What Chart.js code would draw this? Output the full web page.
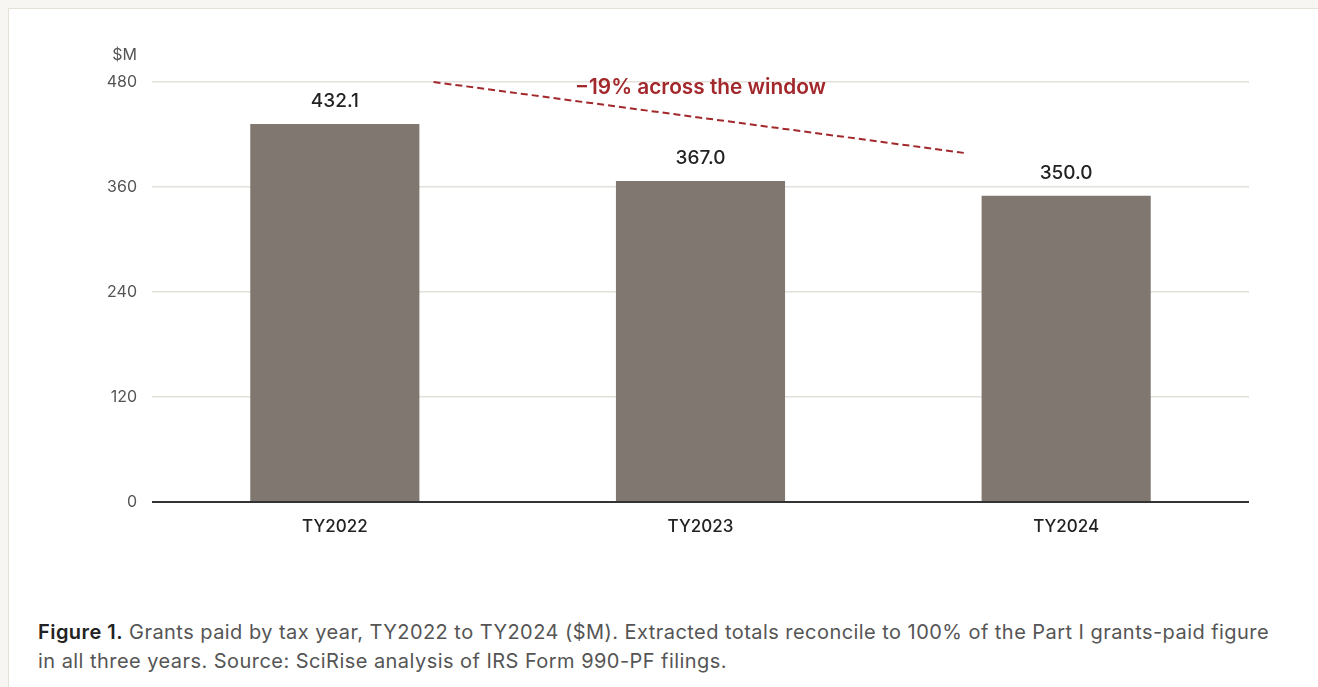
<!DOCTYPE html>
<html>
<head>
<meta charset="utf-8">
<script src="https://cdn.jsdelivr.net/npm/chart.js@4.4.1/dist/chart.umd.min.js"></script>
<style>
  html, body { margin: 0; padding: 0; background: #f8f6f2; width: 1318px; height: 687px; overflow: hidden; }
  .card { position: absolute; left: 8px; top: 8px; width: 1340px; height: 720px; background: #fff; border: 1px solid #e6e1d9; box-sizing: border-box; }
  #wrap { position: absolute; left: 0; top: 0; width: 1318px; height: 560px; }
  .caption { position: absolute; left: 38px; top: 618px; width: 1240px; font-family: Inter, "Noto Sans", sans-serif; font-size: 20px; line-height: 29px; color: #555; letter-spacing: 0.45px; }
  .caption b { color: #222; font-weight: 600; }
</style>
</head>
<body>
<div class="card"></div>
<div id="wrap"><canvas id="grantsChart"></canvas></div>
<div class="caption"><b>Figure 1.</b> Grants paid by tax year, TY2022 to TY2024 ($M). Extracted totals reconcile to 100% of the Part I grants-paid figure in all three years. Source: SciRise analysis of IRS Form 990-PF filings.</div>
<script>
// dữ liệu
const years = ['TY2022', 'TY2023', 'TY2024'];
const grantsPaid = [432.1, 367.0, 350.0];
const yTicks = [0, 120, 240, 360, 480];

// đường xu hướng (chỉ số danh mục, giá trị)
const trendX = [0.27, 1.72];
const trendY = [480, 399];
const trendText = '\u221219% across the window';
const trendTextAt = [1, 473];

const FONT = 'Inter, "Noto Sans", sans-serif';

const labelsPlugin = {
    id: 'labels',
    afterDatasetsDraw(chart) {
        const { ctx, scales: { x, y } } = chart;
        ctx.save();
        // nhãn giá trị
        ctx.font = '500 19px ' + FONT;
        ctx.fillStyle = '#222';
        ctx.textAlign = 'center';
        ctx.textBaseline = 'alphabetic';
        chart.getDatasetMeta(0).data.forEach((bar, i) => {
            ctx.fillText(grantsPaid[i].toFixed(1), bar.x, bar.y - 17);
        });
        // đơn vị
        ctx.font = '16px ' + FONT;
        ctx.fillStyle = '#555';
        ctx.textAlign = 'right';
        ctx.textBaseline = 'middle';
        ctx.fillText('$M', y.right - 15, chart.chartArea.top - 27);
        // đường xu hướng
        ctx.strokeStyle = '#a3282c';
        ctx.lineWidth = 2;
        ctx.setLineDash([7, 4]);
        ctx.beginPath();
        ctx.moveTo(x.getPixelForValue(trendX[0]), y.getPixelForValue(trendY[0]));
        ctx.lineTo(x.getPixelForValue(trendX[1]), y.getPixelForValue(trendY[1]));
        ctx.stroke();
        ctx.setLineDash([]);
        ctx.font = '600 20.8px ' + FONT;
        ctx.fillStyle = '#a3282c';
        ctx.textAlign = 'center';
        ctx.fillText(trendText, x.getPixelForValue(trendTextAt[0]), y.getPixelForValue(trendTextAt[1]));
        ctx.restore();
    }
};

const ctx = document.getElementById('grantsChart').getContext('2d');
const grantsChart = new Chart(ctx, {
    type: 'bar',
    data: {
        labels: years,
        datasets: [{
            data: grantsPaid,
            backgroundColor: '#7f7770',
            barPercentage: 0.925,
            categoryPercentage: 0.5
        }]
    },
    options: {
        responsive: true,
        maintainAspectRatio: false,
        animation: false,
        layout: { padding: { top: 82, right: 69, left: 0, bottom: 0 } },
        plugins: {
            legend: { display: false },
            tooltip: { enabled: false }
        },
        scales: {
            x: {
                grid: { display: false, drawTicks: false },
                border: { display: false },
                ticks: { color: '#222', font: { family: FONT, size: 17, weight: '500' }, padding: 15 },
                afterFit(scale) { scale.height = 58; }
            },
            y: {
                min: 0,
                max: 480,
                afterBuildTicks(scale) { scale.ticks = yTicks.map(v => ({ value: v })); },
                grid: {
                    drawTicks: false,
                    color: c => c.tick && c.tick.value === 0 ? '#333' : '#e4e0da',
                    lineWidth: c => c.tick && c.tick.value === 0 ? 2 : 1.5
                },
                border: { display: false },
                ticks: { color: '#555', font: { family: FONT, size: 16 }, padding: 15 },
                afterFit(scale) { scale.width = 152; }
            }
        }
    },
    plugins: [labelsPlugin]
});
</script>
</body>
</html>
